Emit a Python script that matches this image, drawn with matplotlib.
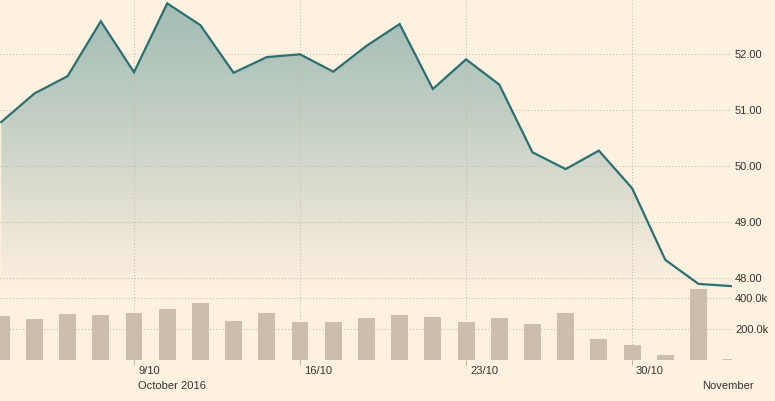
import matplotlib
matplotlib.use("Agg")
import numpy as np
import matplotlib.pyplot as plt
from matplotlib.patches import Polygon
from matplotlib.transforms import blended_transform_factory, ScaledTranslation

# ---- data ----
price = [50.79, 51.30, 51.61, 52.59, 51.68, 52.91, 52.52, 51.67, 51.95, 52.00,
         51.69, 52.15, 52.54, 51.38, 51.91, 51.46, 50.25, 49.95, 50.28, 49.61,
         48.33, 47.90, 47.86]
volume_k = [286, 266, 299, 292, 305, 331, 370, 254, 305, 247, 247, 273, 292,
            279, 247, 273, 234, 305, 137, 99, 34, 460, 8]
tick_idx = [4, 9, 14, 19]
tick_labels = ["9/10", "16/10", "23/10", "30/10"]
month_idx = [4, 21]
month_labels = ["October 2016", "November"]
price_ticks = [48, 49, 50, 51, 52]
vol_ticks = [200, 400]

BG = "#fff1e0"
LINE = "#2a7073"
BAR = "#cebdab"
GRID = "#c4b9ad"
TXT = "#333333"
plt.rcParams["font.family"] = ["Liberation Sans", "DejaVu Sans"]

W, H = 775, 401
fig = plt.figure(figsize=(W / 100, H / 100), dpi=100, facecolor=BG)

x = np.arange(len(price))
xmin, xmax = -0.036, 22.01

# price panel: pixel rows 0..290
ax = fig.add_axes([0, 1 - 290 / H, 732 / W, 290 / H])
ax.set_facecolor(BG)
ax.set_xlim(xmin, xmax)
ylo, yhi = 52 - (290 - 54.3) / 56, 52 + 54.3 / 56
ax.set_ylim(ylo, yhi)

# gradient fill under line
poly_xy = np.column_stack([np.r_[x[0], x, x[-1]], np.r_[ylo, price, ylo]])
poly = Polygon(poly_xy, closed=True, facecolor="none", edgecolor="none")
ax.add_patch(poly)
top = np.array([163, 189, 181]) / 255
bot = np.array([255, 241, 224]) / 255
n = 256
t = np.linspace(0, 1, n) ** 1.15
cols = top[None, :] * (1 - t[:, None]) + bot[None, :] * t[:, None]
grad = cols[:, None, :]
im = ax.imshow(grad, extent=[xmin, xmax, ylo, yhi], aspect="auto",
               origin="upper", zorder=1, interpolation="bilinear")
im.set_clip_path(poly)

ax.plot(x, price, color=LINE, lw=1.6, zorder=5, solid_joinstyle="miter")

for v in price_ticks:
    ax.axhline(v, color=GRID, lw=0.75, ls=(0, (1, 2)), zorder=2)
for v in tick_idx:
    ax.axvline(v, ymin=-(70.3 / 290), ymax=1, color=GRID, lw=0.75,
               ls=(0, (1, 2)), zorder=2, clip_on=False)

ax.yaxis.tick_right()
ax.set_yticks(price_ticks)
ax.set_yticklabels([f"{v:.2f}" for v in price_ticks])
ax.tick_params(axis="y", length=0, pad=2.2, labelsize=8, labelcolor=TXT)
ax.set_xticks([])
for s in ax.spines.values():
    s.set_visible(False)

# volume panel: pixel rows 285..360.3
axv = fig.add_axes([0, 1 - 360.3 / H, 732 / W, 75.3 / H])
axv.patch.set_visible(False)
axv.set_xlim(xmin, xmax)
axv.set_ylim(0, 75.3 * 200 / 31)
for v in vol_ticks:
    axv.axhline(v, color=GRID, lw=0.75, ls=(0, (1, 2)), zorder=1)
axv.bar(x, volume_k, width=0.51, color=BAR, zorder=3)
axv.yaxis.tick_right()
axv.set_yticks(vol_ticks)
axv.set_yticklabels([f"{v:.1f}k" for v in vol_ticks])
axv.tick_params(axis="y", length=0, pad=2.2, labelsize=8, labelcolor=TXT)
axv.set_xticks(tick_idx)
axv.set_xticklabels([])
axv.tick_params(axis="x", length=3.6, width=0.75, color="#bcb2a6", direction="out")
for s in axv.spines.values():
    s.set_visible(False)

tr = blended_transform_factory(axv.transData, fig.transFigure) + \
    ScaledTranslation(4 / 100, 0, fig.dpi_scale_trans)
for i, lab in zip(tick_idx, tick_labels):
    axv.text(i, 1 - 371 / H, lab, transform=tr, ha="left", va="center",
             fontsize=8, color=TXT)
tr2 = blended_transform_factory(axv.transData, fig.transFigure) + \
    ScaledTranslation(4 / 100, 0, fig.dpi_scale_trans)
for i, lab in zip(month_idx, month_labels):
    axv.text(i, 1 - 386 / H, lab, transform=tr2, ha="left", va="center",
             fontsize=8, color=TXT)

fig.savefig("out.png", dpi=100, facecolor=BG)
